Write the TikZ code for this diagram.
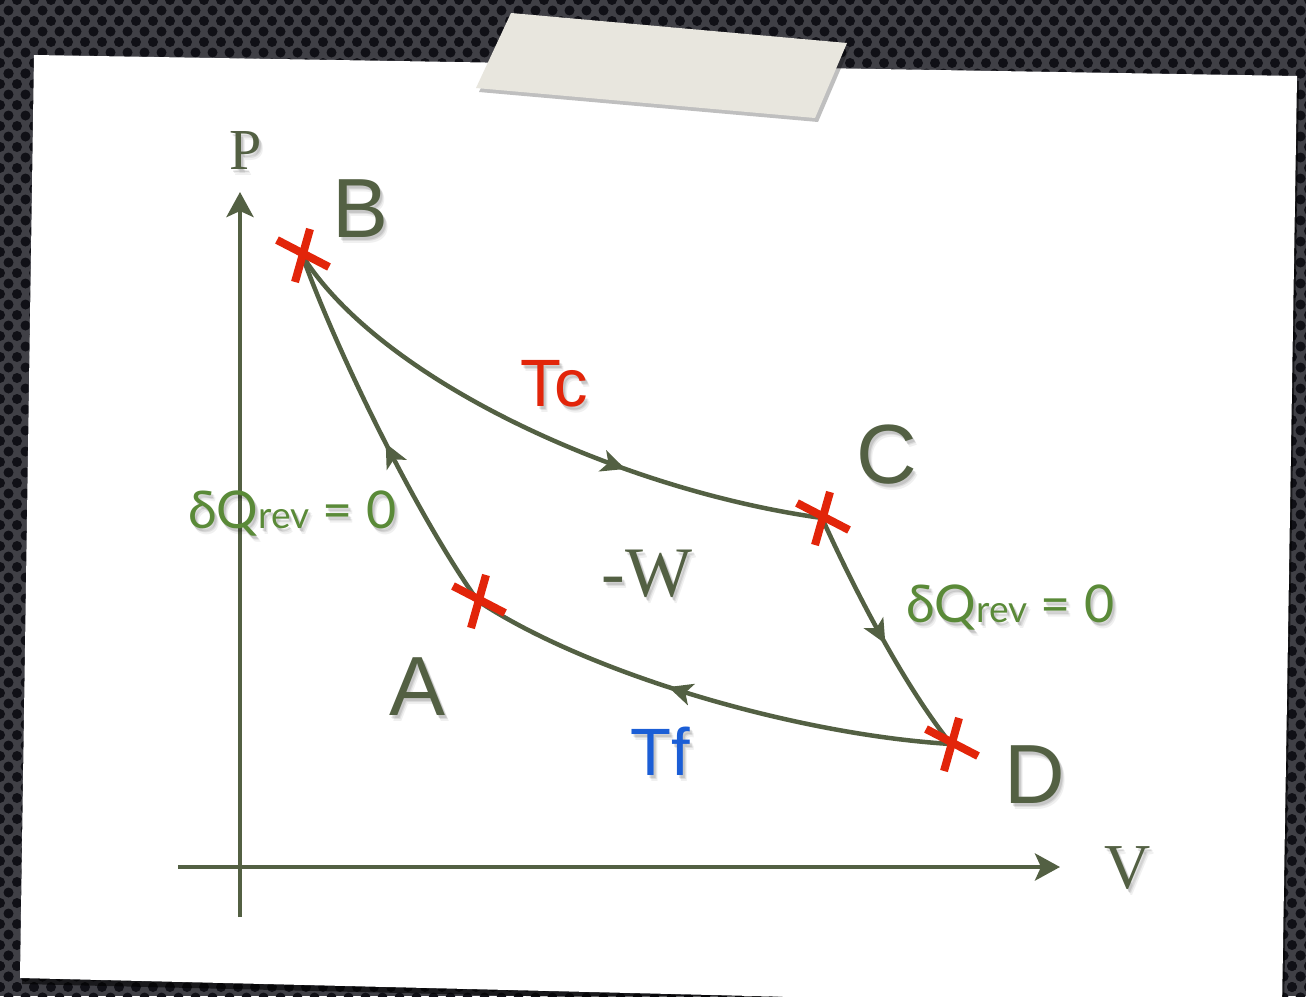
\documentclass[tikz,border=0pt]{standalone}
\usepackage{fontspec}
\usetikzlibrary{arrows.meta,decorations.markings}
\newfontfamily\sansf{Liberation Sans}
\newfontfamily\serf{Liberation Serif}
\newfontfamily\humf{Lato}
\definecolor{lineol}{HTML}{536043}
\definecolor{txtgreen}{HTML}{5A8A38}
\definecolor{xred}{HTML}{E2250A}
\definecolor{tblue}{HTML}{1B5ED6}
\definecolor{meshbg}{HTML}{404046}
\definecolor{meshhole}{HTML}{101016}
\definecolor{tapecol}{HTML}{E8E6DE}
\newcommand\shtext[5]{%
  \foreach \dx/\dy/\op in {2/3/0.10,3/4/0.08,4/6/0.06}{\node[#4,anchor=#2,text=black,opacity=\op,xshift=\dx,yshift=-\dy] at (#3) {#5};}
  \node[#4,anchor=#2] (#1) at (#3) {#5};}
\begin{document}
\begin{tikzpicture}[x=1pt,y=-1pt,
  axisline/.style={draw=lineol, line width=4.5pt, -{Stealth[length=25pt,width=27pt,inset=6pt,color=lineol]}},
  curve/.style={draw=lineol, line width=4.5pt, postaction={decorate}},
  midarrow/.style={decoration={markings, mark=at position #1 with {\arrow{Stealth[length=24pt,width=22pt,inset=6pt,color=lineol]}}}},
  xmark/.style={draw=xred, line width=8pt},
  letter/.style={font=\sansf\fontsize{84}{84}\selectfont, text=lineol, inner sep=0pt},
  templab/.style={font=\sansf\fontsize{67}{67}\selectfont, inner sep=0pt},
  serlab/.style={font=\serf\fontsize{#1}{#1}\selectfont, text=lineol, inner sep=0pt},
  qlab/.style={font=\humf\fontsize{52}{52}\selectfont, text=txtgreen, inner sep=0pt},
]
\useasboundingbox (0,0) rectangle (1306,996);
% background mesh
\fill[meshbg] (0,0) rectangle (1306,996);
\foreach \j in {0,...,7}{\foreach \i in {0,...,77}{\fill[meshhole] ({\i*17+mod(\j,2)*8.5},{\j*10.5}) circle (5);}}
\foreach \j in {7,...,95}{\foreach \i in {0,...,2}{\fill[meshhole] ({\i*17+mod(\j,2)*8.5},{\j*10.5}) circle (5);}}
\foreach \j in {7,...,95}{\foreach \i in {75,...,77}{\fill[meshhole] ({\i*17+mod(\j,2)*8.5},{\j*10.5}) circle (5);}}
\foreach \j in {91,...,95}{\foreach \i in {0,...,77}{\fill[meshhole] ({\i*17+mod(\j,2)*8.5},{\j*10.5}) circle (5);}}
% paper
\fill[black,opacity=0.6] (36,60) -- (1299,81) -- (1284,1014) -- (22,984) -- cycle;
\fill[white] (34,55) -- (1297,76) -- (1282,1009) -- (20,978) -- cycle;
% tape
\fill[black,opacity=0.25] (514,17) -- (850,47) -- (818,122) -- (479,92) -- cycle;
\fill[tapecol] (511,13) -- (847,43) -- (815,118) -- (476,88) -- cycle;
% axes
\coordinate (vbot) at (240,917);
\coordinate (vtop) at (240,192);
\coordinate (hleft) at (178,867);
\coordinate (hright) at (1060,867);
\draw[axisline] (vbot) -- (vtop);
\draw[axisline] (hleft) -- (hright);
% states
\coordinate (B) at (302,255);
\coordinate (C) at (822,518);
\coordinate (A) at (478,601);
\coordinate (D) at (951,744);
% cycle
\draw[curve, midarrow=0.66] (B) .. controls (380,380) and (620,490) .. (C);
\draw[curve, midarrow=0.54] (C) .. controls (850,580) and (900,680) .. (D);
\draw[curve, midarrow=0.58] (D) .. controls (800,735) and (590,675) .. (A);
\draw[curve, midarrow=0.47] (A) .. controls (420,520) and (340,360) .. (B);
% crosses
\foreach \p in {A,B,C,D}{
  \draw[xmark] ([shift={(-25,-15)}]\p) -- ([shift={(27,12)}]\p);
  \draw[xmark] ([shift={(8,-26)}]\p) -- ([shift={(-7,27)}]\p);
}
% labels
\shtext{lP}{center}{246,151}{serlab=58}{P}
\shtext{lV}{center}{1128,868}{serlab=64}{V}
\shtext{lB}{center}{361,209}{letter}{B}
\shtext{lC}{center}{887,455}{letter}{C}
\shtext{lD}{center}{1035,775}{letter}{D}
\shtext{lA}{center}{418,687}{letter}{A}
\shtext{lW}{center}{647,574}{serlab=71}{-W}
\shtext{lTc}{center}{554,384}{templab,text=xred}{Tc}
\shtext{lTf}{center}{660,751}{templab,text=tblue}{Tf}
\shtext{lQ1}{base west}{188,528}{qlab}{δQ{\fontsize{37}{37}\selectfont rev} = 0}
\shtext{lQ2}{base west}{906,622}{qlab}{δQ{\fontsize{37}{37}\selectfont rev} = 0}
\end{tikzpicture}
\end{document}
